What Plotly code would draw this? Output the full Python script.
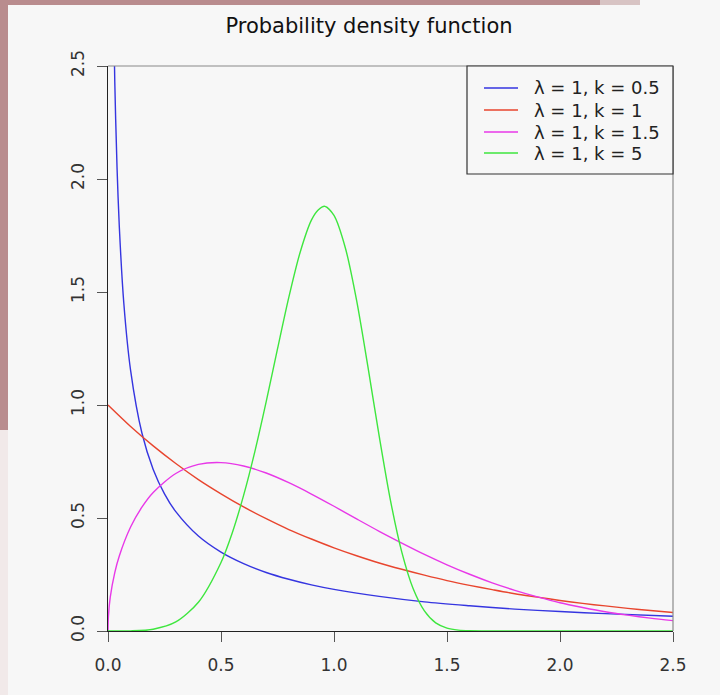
import plotly.graph_objects as go

# Weibull densities (scale 1) read at sample points along each curve
x_k05 = [0.01, 0.02, 0.03, 0.04, 0.05, 0.07, 0.1, 0.15, 0.2, 0.25, 0.3, 0.4, 0.5,
         0.6, 0.7, 0.8, 0.9, 1.0, 1.2, 1.4, 1.6, 1.8, 2.0, 2.2, 2.5]
y_k05 = [4.52, 3.07, 2.43, 2.05, 1.79, 1.45, 1.153, 0.876, 0.715, 0.607, 0.528, 0.420, 0.349,
         0.298, 0.259, 0.229, 0.204, 0.184, 0.153, 0.129, 0.112, 0.097, 0.086, 0.077, 0.065]

x_k1 = [0.0, 0.1, 0.2, 0.3, 0.4, 0.5, 0.6, 0.7, 0.8, 0.9, 1.0, 1.1, 1.2, 1.3,
        1.4, 1.5, 1.6, 1.7, 1.8, 1.9, 2.0, 2.1, 2.2, 2.3, 2.4, 2.5]
y_k1 = [1.000, 0.905, 0.819, 0.741, 0.670, 0.607, 0.549, 0.497, 0.449, 0.407, 0.368, 0.333, 0.301, 0.273,
        0.247, 0.223, 0.202, 0.183, 0.165, 0.150, 0.135, 0.122, 0.111, 0.100, 0.091, 0.082]

x_k15 = [0.0, 0.002, 0.01, 0.03, 0.05, 0.1, 0.15, 0.2, 0.3, 0.4, 0.5, 0.6, 0.7, 0.8, 0.9, 1.0,
         1.1, 1.2, 1.3, 1.4, 1.5, 1.6, 1.7, 1.8, 1.9, 2.0, 2.1, 2.2, 2.3, 2.4, 2.5]
y_k15 = [0.0, 0.067, 0.150, 0.258, 0.332, 0.460, 0.548, 0.613, 0.697, 0.737, 0.745, 0.730, 0.699, 0.656, 0.606, 0.552,
         0.496, 0.441, 0.389, 0.339, 0.293, 0.251, 0.213, 0.180, 0.151, 0.125, 0.104, 0.085, 0.070, 0.057, 0.046]

x_k5 = [0.0, 0.1, 0.2, 0.3, 0.4, 0.5, 0.55, 0.6, 0.65, 0.7, 0.75, 0.8, 0.85, 0.9, 0.93, 0.96, 1.0,
        1.05, 1.1, 1.15, 1.2, 1.25, 1.3, 1.35, 1.4, 1.45, 1.5, 1.55, 1.6, 1.7, 2.0, 2.5]
y_k5 = [0.0, 0.0005, 0.008, 0.040, 0.127, 0.303, 0.435, 0.600, 0.795, 1.015, 1.248, 1.476, 1.675, 1.818, 1.863, 1.879, 1.839,
        1.696, 1.463, 1.170, 0.862, 0.577, 0.349, 0.188, 0.089, 0.036, 0.013, 0.004, 0.001, 0.0, 0.0, 0.0]

series_names = ["λ = 1, k = 0.5", "λ = 1, k = 1", "λ = 1, k = 1.5", "λ = 1, k = 5"]
series_x = [x_k05, x_k1, x_k15, x_k5]
series_y = [y_k05, y_k1, y_k15, y_k5]
series_colors = ["#3535e0", "#e8452e", "#e838e8", "#3ee63e"]

tick_vals = [0.0, 0.5, 1.0, 1.5, 2.0, 2.5]
tick_text = ["0.0", "0.5", "1.0", "1.5", "2.0", "2.5"]

fig = go.Figure()
for name, xs, ys, color in zip(series_names, series_x, series_y, series_colors):
    fig.add_trace(go.Scatter(
        x=xs, y=ys, mode="lines", name=name, showlegend=False,
        line=dict(color=color, width=1.4, shape="spline", smoothing=0.8),
    ))

W, H = 720, 695
L, R, T, B = 108, 47, 66, 64
pw, ph = W - L - R, H - T - B

def px(xp):
    return (xp - L) / pw

def py(yp):
    return (H - B - yp) / ph

bg = "#f7f7f7"
stone = "#b98c8e"

shapes = [
    # textured border strips at top and left of the page
    dict(type="rect", xref="paper", yref="paper", x0=px(0), x1=px(600), y0=py(5), y1=py(0),
         fillcolor=stone, line_width=0, layer="below"),
    dict(type="rect", xref="paper", yref="paper", x0=px(600), x1=px(640), y0=py(5), y1=py(0),
         fillcolor="#d8c4c4", line_width=0, layer="below"),
    dict(type="rect", xref="paper", yref="paper", x0=px(0), x1=px(8), y0=py(430), y1=py(0),
         fillcolor=stone, line_width=0, layer="below"),
    dict(type="rect", xref="paper", yref="paper", x0=px(0), x1=px(8), y0=py(H), y1=py(430),
         fillcolor="#f1e9e9", line_width=0, layer="below"),
    # grey frame on the top and right
    dict(type="line", xref="paper", yref="paper", x0=0, x1=1, y0=1, y1=1,
         line=dict(color="#8a8a8a", width=1.2)),
    dict(type="line", xref="paper", yref="paper", x0=1, x1=1, y0=0, y1=1,
         line=dict(color="#8a8a8a", width=1.2)),
    # legend box
    dict(type="rect", xref="paper", yref="paper", x0=px(467), x1=px(673), y0=py(174), y1=py(66),
         fillcolor=bg, line=dict(color="#333333", width=1.2)),
]

annotations = []
row_y = [88, 110, 132, 153]
for name, color, ry in zip(series_names, series_colors, row_y):
    shapes.append(dict(type="line", xref="paper", yref="paper", x0=px(484), x1=px(518),
                       y0=py(ry), y1=py(ry), line=dict(color=color, width=1.4)))
    annotations.append(dict(text=name, xref="paper", yref="paper", x=px(532), y=py(ry),
                            xanchor="left", yanchor="middle", showarrow=False,
                            font=dict(family="DejaVu Sans", size=18, color="#222222")))

axis_common = dict(
    range=[0, 2.5], tickvals=tick_vals, ticktext=tick_text,
    showgrid=False, zeroline=False, showline=True, linecolor="#222222", linewidth=1.2,
    ticks="outside", ticklen=10, tickwidth=1.2, tickcolor="#555555",
    tickfont=dict(family="DejaVu Sans", size=17, color="#333333"),
)

fig.update_layout(
    width=W, height=H,
    margin=dict(l=L, r=R, t=T, b=B),
    paper_bgcolor=bg, plot_bgcolor=bg,
    title=dict(text="Probability density function", x=369 / W, xref="container", xanchor="center",
               y=1 - 26 / H, yref="container", yanchor="middle",
               font=dict(family="DejaVu Sans", size=21, color="#111111")),
    xaxis=dict(**axis_common, ticklabelstandoff=8),
    yaxis=dict(**axis_common, tickangle=-90, ticklabelstandoff=6),
    shapes=shapes,
    annotations=annotations,
    showlegend=False,
)

fig.write_html("out.html")
